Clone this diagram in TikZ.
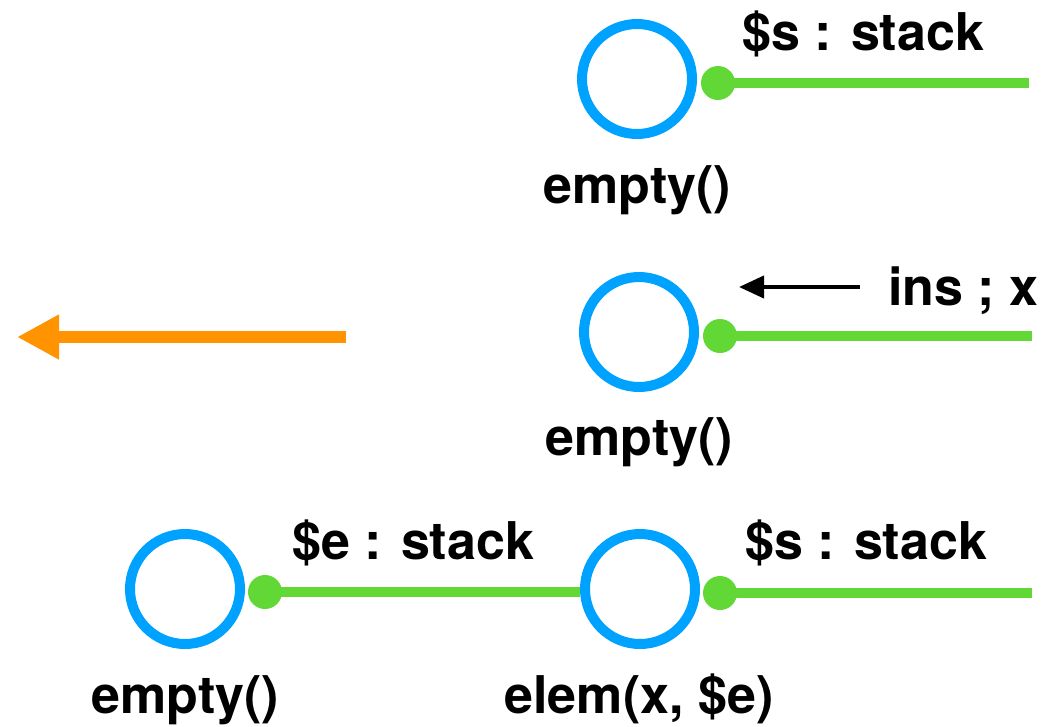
\documentclass[tikz,border=0pt]{standalone}
\usepackage{fontspec}
\setmainfont{TeX Gyre Heros}
\usetikzlibrary{arrows.meta}
\definecolor{kblue}{RGB}{0,162,255}
\definecolor{kgreen}{RGB}{97,216,54}
\definecolor{korange}{RGB}{255,147,0}
\begin{document}
\begin{tikzpicture}[x=1pt,y=-1pt,
  state/.style={circle, draw=kblue, line width=10pt, minimum size=110pt, inner sep=0pt},
  port/.style={circle, fill=kgreen, minimum size=34pt, inner sep=0pt},
  wire/.style={draw=kgreen, line width=10.5pt},
  lbl/.style={font=\fontsize{52}{62}\selectfont\bfseries, inner sep=0pt, anchor=base west},
  caption/.style={font=\fontsize{52}{62}\selectfont\bfseries, inner sep=0pt, anchor=base},
  pointer/.style={draw=black, line width=4pt, -{Triangle[length=25pt,width=22pt]}},
  bigarrow/.style={draw=korange, line width=11.5pt, -{Triangle[length=42pt,width=42pt]}}]
\useasboundingbox (0,0) rectangle (1049,726);

% row 1
\node[state] (s1) at (637,79) {};
\coordinate (e1) at (1029,83);
\node[port] (p1) at (718,83) {};
\draw[wire] (p1.center) -- (e1);
\node[lbl] (l1) at (742,50) {\$s : stack};
\node[caption] (n1) at (637,203) {empty()};

% row 2
\node[state] (s2) at (639,332) {};
\coordinate (e2) at (1032,336);
\node[port] (p2) at (720,336) {};
\draw[wire] (p2.center) -- (e2);
\coordinate (a1) at (860,287);
\coordinate (a2) at (739,287);
\draw[pointer] (a1) -- (a2);
\node[lbl] (l2) at (888,305) {ins ; x};
\node[caption] (n2) at (639,455) {empty()};

% orange arrow
\coordinate (o1) at (346,337);
\coordinate (o2) at (17,337);
\draw[bigarrow] (o1) -- (o2);

% row 3
\node[state] (s3a) at (185,589) {};
\node[state] (s3b) at (640,589) {};
\node[port] (p3a) at (265,592) {};
\node[port] (p3b) at (720,593) {};
\coordinate (e3) at (1032,593);
\draw[wire] (p3a.center) -- (s3b.west |- p3a.center);
\draw[wire] (p3b.center) -- (e3);
\node[lbl] (l3a) at (292,559) {\$e : stack};
\node[lbl] (l3b) at (745,559) {\$s : stack};
\node[caption] (n3a) at (185,713) {empty()};
\node[caption] (n3b) at (639,713) {elem(x, \$e)};
\end{tikzpicture}
\end{document}
